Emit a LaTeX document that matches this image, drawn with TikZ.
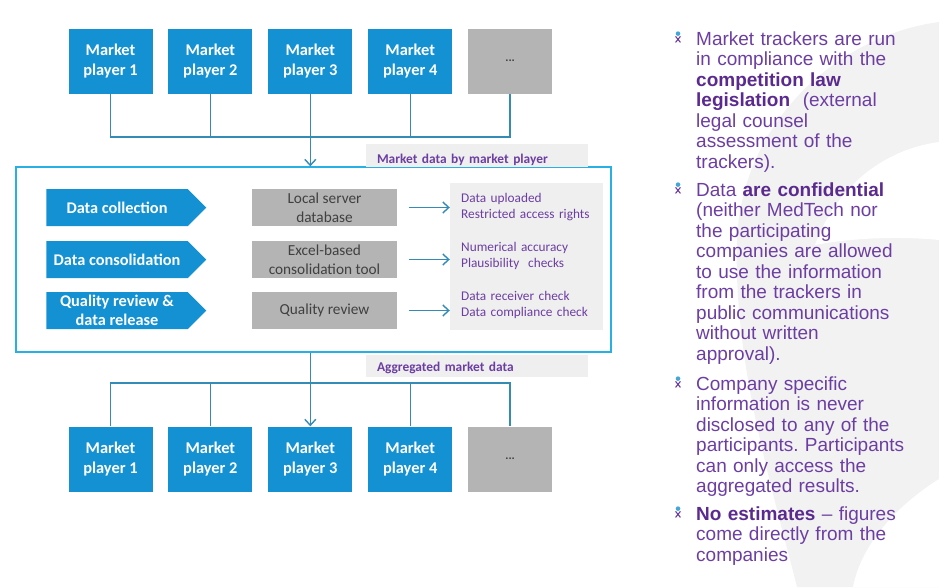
\documentclass[tikz,border=0pt]{standalone}
\usepackage{fontspec}
\setmainfont{Carlito}
\newfontfamily\arialfont{Liberation Sans}
\usetikzlibrary{shapes.symbols, positioning, arrows.meta}
\frenchspacing
\definecolor{mtblue}{RGB}{20,145,210}
\definecolor{mtgrey}{RGB}{180,180,180}
\definecolor{panelgrey}{RGB}{239,239,239}
\definecolor{linkblue}{RGB}{52,140,182}
\definecolor{framecyan}{RGB}{40,175,228}
\definecolor{mtpurple}{RGB}{108,62,162}
\definecolor{darkpurple}{RGB}{90,42,142}
\definecolor{toolgrey}{RGB}{64,64,64}
\newcommand{\keyterm}[1]{\textbf{\color{darkpurple}#1}}
\tikzstyle{player} = [rectangle, minimum width=84pt, minimum height=65pt, inner sep=0pt, align=center, fill=mtblue, text=white, font=\fontsize{16.4}{20}\selectfont\bfseries]
\tikzstyle{more} = [player, fill=mtgrey, text=toolgrey, font=\fontsize{12}{14}\selectfont\bfseries]
\tikzstyle{stage} = [signal, signal to=east, signal pointer angle=90, minimum width=160pt, minimum height=37pt, inner sep=0pt, align=center, fill=mtblue, text=white, font=\fontsize{16.3}{19.5}\selectfont\bfseries]
\tikzstyle{tool} = [rectangle, minimum width=145pt, minimum height=37pt, inner sep=0pt, align=center, fill=mtgrey, text=toolgrey, font=\fontsize{15.3}{19.5}\selectfont]
\tikzstyle{check} = [anchor=base west, inner sep=0pt, text width=140pt, align=left, text=mtpurple, font=\fontsize{13.3}{16}\selectfont]
\tikzstyle{flowlabel} = [rectangle, minimum width=222pt, inner xsep=11pt, inner ysep=0pt, text width=200pt, text height=16pt, text depth=6pt, align=left, fill=panelgrey, text=mtpurple, font=\fontsize{13.4}{15}\selectfont\bfseries]
\tikzstyle{point} = [anchor=base west, inner sep=0pt, text width=240pt, align=left, text=mtpurple, font=\arialfont\fontsize{19}{20.5}\selectfont]
\tikzstyle{link} = [draw=linkblue, line width=1.4pt]
\tikzstyle{arrow} = [link, -{Straight Barb[length=6pt,width=11pt]}]
\tikzset{tracker/.pic={
  \fill[mtblue!80] (0,-3.4) circle (2.3);
  \draw[mtpurple, line width=1.1pt] (-2.4,-0.6) -- (2.4,5.4) (2.4,-0.6) -- (-2.4,5.4);
}}

\begin{document}
\begin{tikzpicture}[x=1pt, y=-1pt, node distance=15.5pt]
\useasboundingbox (0,0) rectangle (939,587);

% faint swoosh behind the notes
\fill[black!5] (939,22) .. controls (840,35) and (742,120) .. (737,240) .. controls (733,360) and (770,480) .. (797,587) -- (939,587) -- cycle;
\fill[white] (939,142) .. controls (880,150) and (835,190) .. (815,245) .. controls (850,238) and (900,236) .. (939,240) -- cycle;
\fill[white] (939,479) .. controls (890,510) and (860,550) .. (853,587) -- (939,587) -- cycle;

% market players sending data
\node (top1) [player] at (110.5,61) {Market\\player 1};
\node (top2) [player, right=of top1] {Market\\player 2};
\node (top3) [player, right=of top2] {Market\\player 3};
\node (top4) [player, right=of top3] {Market\\player 4};
\node (topmore) [more, right=of top4] {...};

% tracker process
\node (frame) [draw=framecyan, line width=1.3pt, minimum width=595pt, minimum height=185pt, inner sep=0pt] at (313.5,259.5) {};
\node (inlabel) [flowlabel, text height=19pt, text depth=4pt] at (477,155.5) {Market data by market player};
\node (outlabel) [flowlabel] at (477,366) {Aggregated market data};

\node (collect) [stage] at (117,207.5) {Data collection};
\node (consolidate) [stage] at (117,259.5) {Data consolidation};
\node (release) [stage] at (117,310.5) {Quality review \&\\data release};

\node (server) [tool] at (324.5,207.5) {Local server\\database};
\node (excel) [tool] at (324.5,259.5) {Excel-based\\consolidation tool};
\node (review) [tool] at (324.5,310.5) {Quality review};

\node (checks) [fill=panelgrey, minimum width=153pt, minimum height=147pt, inner sep=0pt] at (526.5,256) {};
\node (upload) [check] at (461,202) {Data uploaded\\Restricted access rights};
\node (accuracy) [check] at (461,251) {Numerical accuracy\\Plausibility\ \ checks};
\node (compliance) [check] at (461,300) {Data receiver check\\Data compliance check};

\draw [arrow] ([xshift=12pt]server.east) -- (server.east -| checks.west);
\draw [arrow] ([xshift=12pt]excel.east) -- (excel.east -| checks.west);
\draw [arrow] ([xshift=12pt]review.east) -- (review.east -| checks.west);

% market players receiving results
\node (bot1) [player] at (110.5,459) {Market\\player 1};
\node (bot2) [player, right=of bot1] {Market\\player 2};
\node (bot3) [player, right=of bot2] {Market\\player 3};
\node (bot4) [player, right=of bot3] {Market\\player 4};
\node (botmore) [more, right=of bot4] {...};

\coordinate (inbus) at (310,137);
\coordinate (outbus) at (310,383);
\draw [link] (top1.south) |- (inbus) -| (topmore.south);
\draw [link] (top2.south) -- (top2.south |- inbus);
\draw [link] (top4.south) -- (top4.south |- inbus);
\draw [arrow] (top3.south) -- (top3.south |- frame.north);
\draw [link] (bot1.north) |- (outbus) -| (botmore.north);
\draw [link] (bot2.north) -- (bot2.north |- outbus);
\draw [link] (bot4.north) -- (bot4.north |- outbus);
\draw [arrow] (bot3.north |- frame.south) -- (bot3.north);

% notes
\node (note1) [point] at (696,45) {Market trackers are run\\in compliance with the\\\keyterm{competition law}\\\keyterm{legislation}\ \ (external\\legal counsel\\assessment of the\\trackers).};
\node (note2) [point] at (696,196) {Data \keyterm{are confidential}\\(neither MedTech nor\\the participating\\companies are allowed\\to use the information\\from the trackers in\\public communications\\without written\\approval).};
\node (note3) [point] at (696,390) {Company specific\\information is never\\disclosed to any of the\\participants. Participants\\can only access the\\aggregated results.};
\node (note4) [point] at (696,520) {\keyterm{No estimates} \textendash{} figures\\come directly from the\\companies};
\pic at (678,37) {tracker};
\pic at (678,188) {tracker};
\pic at (678,382) {tracker};
\pic at (678,512) {tracker};
\end{tikzpicture}
\end{document}
